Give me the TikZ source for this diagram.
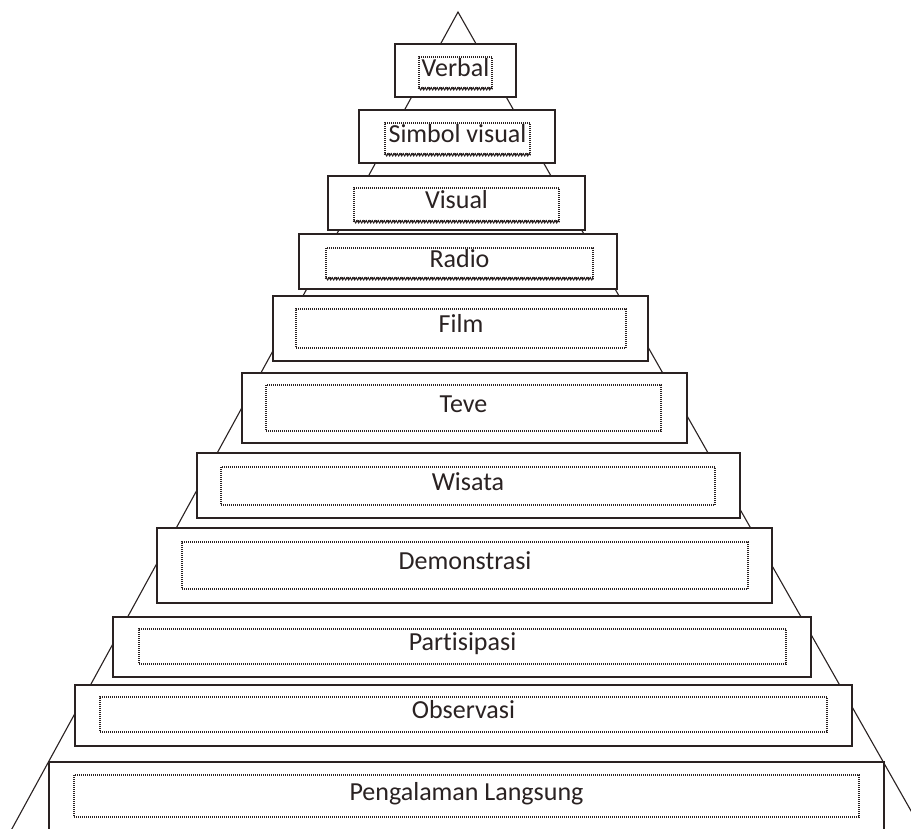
\documentclass[tikz,border=0pt]{standalone}
\usepackage{fontspec}
\newfontfamily\carlito[Ligatures={NoCommon}]{Carlito}
\usetikzlibrary{decorations.pathmorphing}
\definecolor{ink}{HTML}{2A2222}
\tikzset{
  outerbox/.style={draw=ink, fill=white, line width=1.3pt, inner sep=0pt},
  innerbox/.style={draw=ink, line width=1.5pt, dash pattern=on 1pt off 1pt, inner sep=0pt,
    font=\carlito\fontsize{26}{30}\selectfont, text=ink, text height=13pt, text depth=5pt},
  pyrline/.style={draw=ink, line width=1.1pt},
  wavyline/.style={draw=ink, line width=1pt, decorate, decoration={snake, segment length=3pt, amplitude=1.2pt}}
}
\begin{document}
\begin{tikzpicture}[x=1pt,y=-1pt]
\clip (0,0) rectangle (911,828);
\fill[white] (0,0) rectangle (911,828);
\coordinate (apex) at (458,12);
\coordinate (baseL) at (-10,869);
\coordinate (baseR) at (944,869);
\draw[pyrline] (baseL) -- (apex) -- (baseR);
\foreach \n/\l/\r/\t/\b/\il/\ir/\it/\ib/\txt in {
  1/395/516/44/97/419/492/57/88/Verbal,
  2/359/555/110/163/385/530/123/154/Simbol visual,
  3/328/585/176/230/354/559/188/221/Visual,
  4/299/617/234/289/326/593/248/278/Radio,
  5/273/648/296/361/296/626/309/348/Film,
  6/242/687/373/443/266/661/385/431/Teve,
  7/197/740/453/518/221/715/467/505/Wisata,
  8/157/772/528/603/182/748/542/589/Demonstrasi,
  9/113/811/617/677/139/786/629/664/Partisipasi,
  10/75/852/685/746/100/827/697/732/Observasi,
  11/49/884/762/845/74/859/775/817/Pengalaman Langsung}{
  \node[outerbox, minimum width={(\r-\l)*1pt}, minimum height={(\b-\t)*1pt}]
    (o\n) at ({(\l+\r)/2},{(\t+\b)/2}) {};
  \node[innerbox, minimum width={(\ir-\il)*1pt}, minimum height={(\ib-\it)*1pt}]
    (i\n) at ({(\il+\ir)/2},{(\it+\ib)/2}) {\txt};
}
\foreach \n in {1,2,3,4}{
  \draw[wavyline] (i\n.south west) -- (i\n.south east);
}
\end{tikzpicture}
\end{document}
